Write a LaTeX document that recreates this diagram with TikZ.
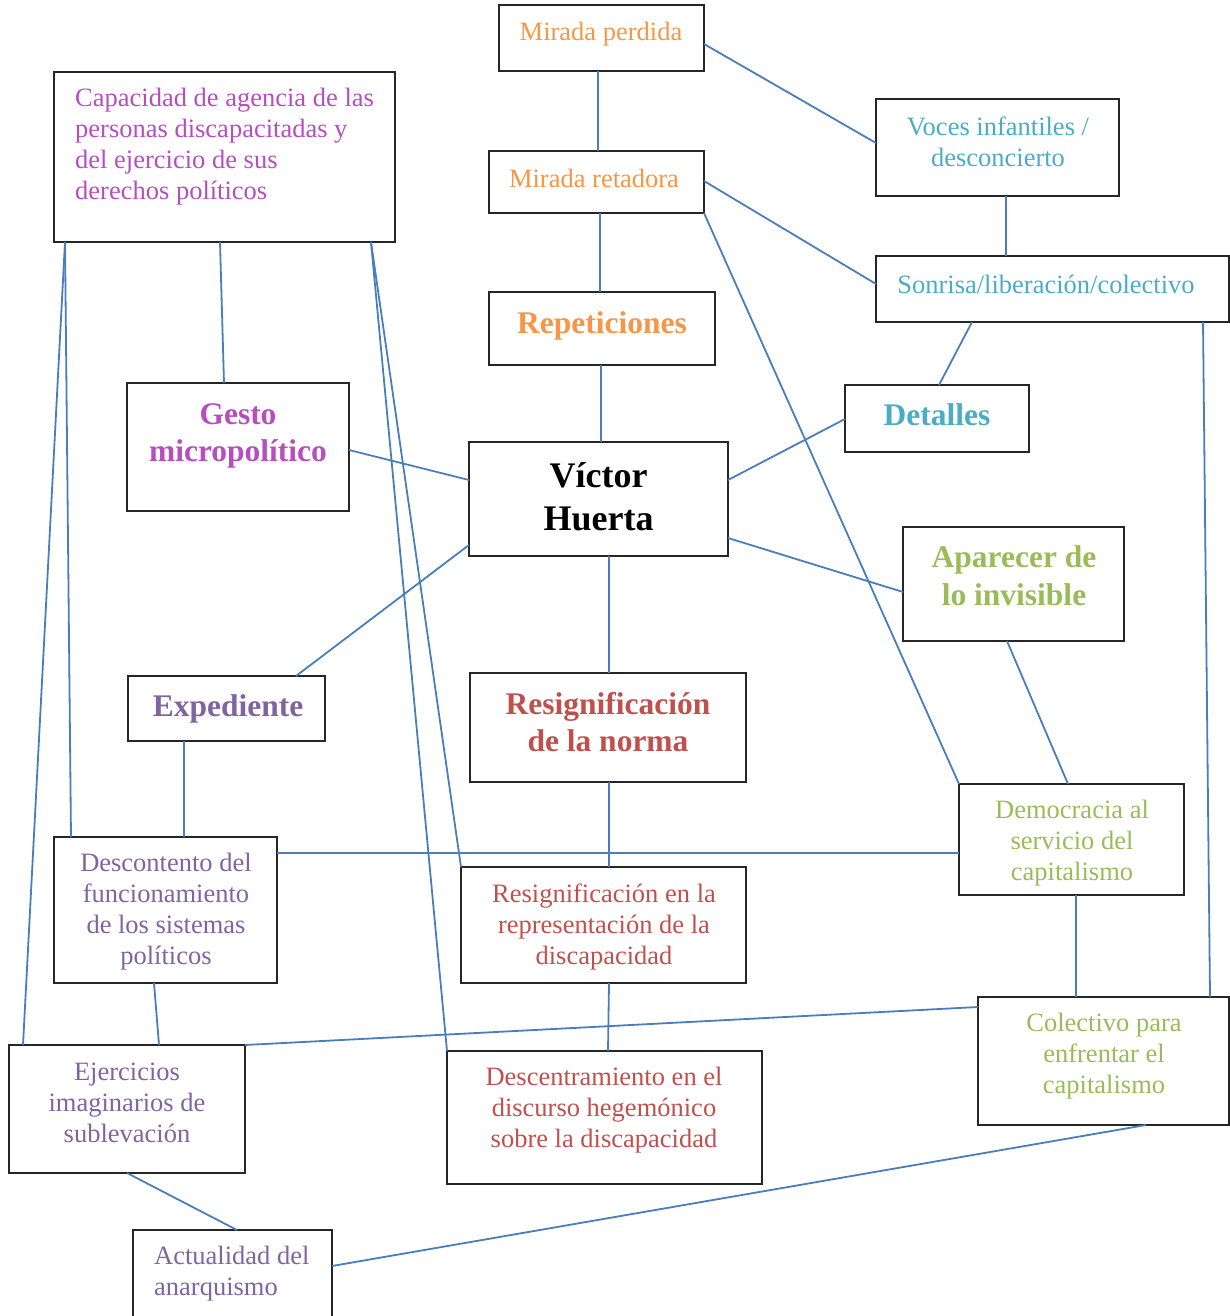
\documentclass[tikz,border=0pt]{standalone}
\usepackage{fontspec}
\setmainfont{Liberation Serif}
\usepackage{tikz}

\definecolor{naranja}{HTML}{F79646}
\definecolor{magenta}{HTML}{B64EC0}
\definecolor{cian}{HTML}{4BACC6}
\definecolor{verde}{HTML}{9BBB59}
\definecolor{rojo}{HTML}{C0504D}
\definecolor{morado}{HTML}{8064A2}
\definecolor{azul}{HTML}{4A7EBB}

\begin{document}
\begin{tikzpicture}[x=1pt,y=-1pt,
    caja/.style={draw=black!85, line width=1.3pt, rectangle, inner sep=0pt, outer sep=0pt},
    txt/.style={inner sep=0pt, align=center, font=\fontsize{26.5}{31}\selectfont},
    tit/.style={inner sep=0pt, align=center, font=\fontsize{31.5}{37.5}\selectfont\bfseries},
    enlace/.style={draw=azul, line width=1.8pt}]
    \useasboundingbox (0,0) rectangle (1230,1316);
    \clip (0,0) rectangle (1230,1316);

        \node[caja, minimum width=205, minimum height=66] (perd) at (601.5,38) {};
        \node[caja, minimum width=341, minimum height=170] (cap) at (224.5,157) {};
        \node[caja, minimum width=243, minimum height=97] (voces) at (997.5,147.5) {};
        \node[caja, minimum width=215, minimum height=62] (ret) at (596.5,182) {};
        \node[caja, minimum width=353, minimum height=66] (sonr) at (1052.5,289) {};
        \node[caja, minimum width=226, minimum height=73] (rep) at (602,328.5) {};
        \node[caja, minimum width=222, minimum height=128] (gesto) at (238,447) {};
        \node[caja, minimum width=184, minimum height=67] (det) at (937,418.5) {};
        \node[caja, minimum width=259, minimum height=114] (vic) at (598.5,499) {};
        \node[caja, minimum width=221, minimum height=114] (apar) at (1013.5,584) {};
        \node[caja, minimum width=197, minimum height=65] (exp) at (226.5,708.5) {};
        \node[caja, minimum width=276, minimum height=109] (norma) at (608,727.5) {};
        \node[caja, minimum width=225, minimum height=111] (dem) at (1071.5,839.5) {};
        \node[caja, minimum width=223, minimum height=146] (desc) at (165.5,910) {};
        \node[caja, minimum width=285, minimum height=116] (repr) at (603.5,925) {};
        \node[caja, minimum width=251, minimum height=128] (colec) at (1103.5,1061) {};
        \node[caja, minimum width=236, minimum height=128] (ejer) at (127,1109) {};
        \node[caja, minimum width=315, minimum height=133] (descen) at (604.5,1117.5) {};
        \node[caja, minimum width=199, minimum height=110] (actu) at (232.5,1285) {};

        \node[txt, naranja] (perdT) at (601,34) {Mirada perdida};
        \node[txt, magenta, align=left, anchor=west] (capT) at (75,146.5) {Capacidad de agencia de las\\personas discapacitadas y\\del ejercicio de sus\\derechos políticos};
        \node[txt, cian] (vocesT) at (998,142) {Voces infantiles /\\desconcierto};
        \node[txt, naranja] (retT) at (594,178) {Mirada retadora};
        \node[txt, cian] (sonrT) at (1046,284) {Sonrisa/liberación/colectivo};
        \node[tit, naranja] (repT) at (602,326) {Repeticiones};
        \node[tit, magenta] (gestoT) at (238,436) {Gesto\\micropolítico};
        \node[tit, cian] (detT) at (937,415) {Detalles};
        \node[inner sep=0pt, align=center, font=\fontsize{36}{43}\selectfont\bfseries] (vicT) at (598.5,496.5) {Víctor\\Huerta};
        \node[tit, verde] (aparT) at (1014,575.5) {Aparecer de\\lo invisible};
        \node[tit, morado] (expT) at (228,709) {Expediente};
        \node[tit, rojo] (normaT) at (608,722) {Resignificación\\de la norma};
        \node[txt, verde] (demT) at (1072,843) {Democracia al\\servicio del\\capitalismo};
        \node[txt, morado] (descT) at (166,911.5) {Descontento del\\funcionamiento\\de los sistemas\\políticos};
        \node[txt, rojo] (reprT) at (604,927) {Resignificación en la\\representación de la\\discapacidad};
        \node[txt, verde] (colecT) at (1104,1056) {Colectivo para\\enfrentar el\\capitalismo};
        \node[txt, morado] (ejerT) at (127,1103) {Ejercicios\\imaginarios de\\sublevación};
        \node[txt, rojo] (descenT) at (604,1110) {Descentramiento en el\\discurso hegemónico\\sobre la discapacidad};
        \node[txt, morado, align=left, anchor=west] (actuT) at (154,1273.5) {Actualidad del\\anarquismo};

        \draw[enlace] ([xshift=-3.5]perd.south) -- ([xshift=1.5]ret.north);
        \draw[enlace] ([yshift=-6]perd.east) -- ([yshift=4.5]voces.west);
        \draw[enlace] ([yshift=1]ret.east) -- ([yshift=5]sonr.west);
        \draw[enlace] (ret.south east) -- (dem.north west);
        \draw[enlace] ([xshift=3.5]ret.south) -- ([xshift=-2]rep.north);
        \draw[enlace] ([xshift=8.5]voces.south) -- ([xshift=-46.5]sonr.north);
        \draw[enlace] ([xshift=-80.5]sonr.south) -- ([xshift=2]det.north);
        \draw[enlace] ([xshift=150.5]sonr.south) -- ([xshift=106.5]colec.north);
        \draw[enlace] ([xshift=-1]rep.south) -- ([xshift=2.5]vic.north);
        \draw[enlace] ([yshift=-0.5]det.west) -- ([yshift=19]vic.east);
        \draw[enlace] ([xshift=-4.5]cap.south) -- ([xshift=-14]gesto.north);
        \draw[enlace] ([xshift=11]cap.south west) -- ([xshift=17]desc.north west);
        \draw[enlace] ([xshift=11]cap.south west) -- ([xshift=14]ejer.north west);
        \draw[enlace] ([xshift=-24]cap.south east) -- (repr.north west);
        \draw[enlace] ([xshift=-24]cap.south east) -- (descen.north west);
        \draw[enlace] ([yshift=-3]gesto.east) -- ([yshift=19]vic.west);
        \draw[enlace] ([yshift=-46]vic.west) -- ([xshift=69.5]exp.north);
        \draw[enlace] ([yshift=-39]vic.east) -- ([yshift=-8]apar.west);
        \draw[enlace] ([xshift=10.5]vic.south) -- ([xshift=1]norma.north);
        \draw[enlace] ([xshift=-6.5]apar.south) -- ([xshift=-3.5]dem.north);
        \draw[enlace] ([xshift=-42.5]exp.south) -- ([xshift=18.5]desc.north);
        \draw[enlace] ([yshift=57]desc.east) -- ([yshift=-13.5]dem.west);
        \draw[enlace] ([xshift=1]norma.south) -- ([xshift=5.5]repr.north);
        \draw[enlace] ([xshift=4.5]dem.south) -- ([xshift=-27.5]colec.north);
        \draw[enlace] ([xshift=-11.5]desc.south) -- ([xshift=32]ejer.north);
        \draw[enlace] ([xshift=5.5]repr.south) -- ([xshift=3.5]descen.north);
        \draw[enlace] ([yshift=54]colec.west) -- (ejer.north east);
        \draw[enlace] ([xshift=42.5]colec.south) -- ([yshift=19]actu.east);
        \draw[enlace] (ejer.south) -- ([xshift=4.5]actu.north);
\end{tikzpicture}
\end{document}
